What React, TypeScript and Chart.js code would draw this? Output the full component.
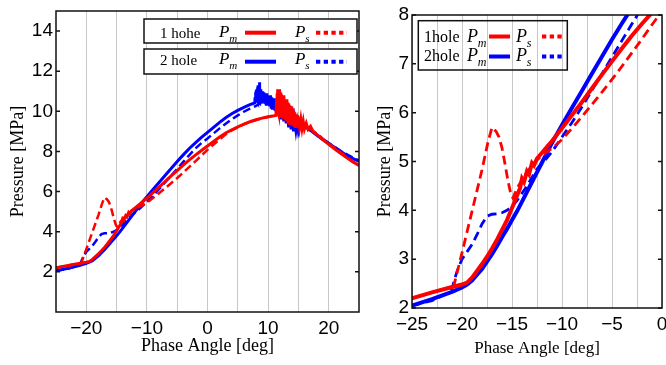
import React, { useEffect, useRef } from 'react';
import { Chart, registerables } from 'chart.js';
Chart.register(...registerables);

const RED = '#ff0000';
const BLUE = '#0000ff';

// [phase angle deg, pressure MPa]
const hole1Pm: [number, number][] = [
  [-25, 2.2], [-23, 2.32], [-21, 2.43], [-20, 2.48], [-19.5, 2.52], [-19, 2.62], [-18.5, 2.76], [-18, 2.9],
  [-17.5, 3.05], [-17, 3.22], [-16.5, 3.4], [-16, 3.6], [-15.5, 3.8], [-15, 4.05], [-14.5, 4.3], [-14.2, 4.45],
  [-14, 4.65], [-13.8, 4.58], [-13.5, 4.8], [-13.3, 4.74], [-13, 4.97], [-12.8, 4.92], [-12.5, 5.06], [-12, 5.18],
  [-11.5, 5.3], [-11, 5.42], [-10, 5.68], [-9, 5.95], [-8, 6.22], [-7, 6.5], [-6, 6.78], [-5, 7.05], [-4, 7.32],
  [-3, 7.58], [-2, 7.82], [-1, 8.05], [0, 8.27], [1, 8.5], [2, 8.72], [3, 8.92], [4, 9.08], [5, 9.23], [6, 9.36],
  [7, 9.48], [8, 9.58], [9, 9.66], [10, 9.73], [11, 9.78], [11.3, 9.8],
  [11.4, 10.6], [11.45, 10.0], [11.5, 10.9], [11.55, 10.1], [11.6, 11.1], [11.65, 10.0], [11.7, 10.8], [11.75, 9.9],
  [11.8, 11.1], [11.85, 10.0], [11.9, 10.7], [11.95, 9.85], [12.0, 10.95], [12.05, 9.8], [12.1, 10.6], [12.15, 9.75],
  [12.2, 10.85], [12.3, 9.8], [12.4, 10.75], [12.5, 9.7], [12.6, 10.8], [12.7, 9.65], [12.8, 10.55], [12.9, 9.55],
  [13.0, 10.6], [13.1, 9.5], [13.2, 10.45], [13.3, 9.45], [13.4, 10.4], [13.5, 9.4], [13.6, 10.3], [13.7, 9.35],
  [13.8, 10.25], [13.9, 9.3], [14.0, 10.15], [14.1, 9.3], [14.2, 10.0], [14.3, 9.3], [14.4, 9.95], [14.5, 9.25],
  [14.6, 9.85], [14.7, 9.25], [14.8, 9.8], [14.9, 9.2], [15.0, 9.7], [15.2, 9.2], [15.4, 9.6], [15.6, 9.15],
  [15.8, 9.5], [16.0, 9.12], [16.3, 9.4], [16.6, 9.1], [17.0, 9.25], [17.4, 9.0], [18, 8.85], [19, 8.6],
  [20, 8.35], [21, 8.12], [22, 7.9], [23, 7.68], [24, 7.48], [25, 7.3],
];

const hole1Ps: [number, number][] = [
  [-25, 2.2], [-23, 2.32], [-21, 2.43], [-20.8, 2.47], [-20, 3.13], [-19, 3.98], [-18, 4.83], [-17.4, 5.4],
  [-17, 5.7], [-16.6, 5.62], [-16.3, 5.5], [-16, 5.28], [-15.7, 4.95], [-15.4, 4.6], [-15.1, 4.32], [-14.9, 4.25],
  [-14.5, 4.45], [-14, 4.62], [-13.5, 4.78], [-13, 4.92], [-12.5, 5.03], [-12, 5.12], [-11.5, 5.2], [-11, 5.27],
  [-10, 5.45], [-9, 5.68], [-8, 5.92], [-7, 6.17], [-6, 6.42], [-5, 6.68], [-4, 6.95], [-3, 7.23], [-2, 7.51],
  [-1, 7.8], [0, 8.08], [1, 8.35], [2, 8.6], [3, 8.85], [4, 9.05], [5, 9.2], [6, 9.35], [7, 9.47], [8, 9.57],
  [9, 9.65], [10, 9.72], [11, 9.77], [11.3, 9.8], [11.5, 10.2], [12, 10.1], [14, 9.75], [16, 9.35], [18, 8.9],
  [20, 8.4], [22, 7.95], [24, 7.5], [25, 7.3],
];

const hole2Pm: [number, number][] = [
  [-25, 2.05], [-23, 2.18], [-21, 2.33], [-20, 2.42], [-19.5, 2.48], [-19, 2.56], [-18.5, 2.68], [-18, 2.8],
  [-17.5, 2.95], [-17, 3.1], [-16.5, 3.27], [-16, 3.45], [-15.5, 3.62], [-15, 3.8], [-14.5, 3.98], [-14, 4.18],
  [-13.5, 4.38], [-13, 4.58], [-12.5, 4.78], [-12, 4.98], [-11.5, 5.18], [-11, 5.38], [-10, 5.75], [-9, 6.1],
  [-8, 6.45], [-7, 6.8], [-6, 7.15], [-5, 7.5], [-4, 7.83], [-3, 8.15], [-2, 8.43], [-1, 8.7], [0, 8.95],
  [1, 9.2], [2, 9.45], [3, 9.68], [4, 9.88], [5, 10.05], [6, 10.2], [7, 10.33], [7.8, 10.42],
  [7.85, 10.7], [7.9, 10.45], [7.95, 10.95], [8.0, 10.5], [8.05, 11.05], [8.1, 10.5], [8.15, 11.1], [8.2, 10.55],
  [8.25, 11.2], [8.3, 10.5], [8.35, 11.3], [8.4, 10.6], [8.45, 11.15], [8.5, 10.55], [8.55, 11.45], [8.6, 10.5],
  [8.65, 11.2], [8.7, 10.45], [8.8, 11.1], [8.9, 10.45], [9.0, 11.0], [9.1, 10.5], [9.2, 10.95], [9.3, 10.4],
  [9.4, 10.9], [9.5, 10.45], [9.6, 10.85], [9.7, 10.35], [9.8, 10.9], [9.9, 10.3], [10.0, 10.8], [10.1, 10.35],
  [10.2, 10.75], [10.3, 10.25], [10.4, 10.8], [10.5, 10.2], [10.6, 10.7], [10.7, 10.15], [10.8, 10.6], [10.9, 10.1],
  [11.0, 10.65], [11.1, 10.05], [11.2, 10.5], [11.3, 10.0], [11.4, 10.45], [11.5, 9.9], [11.6, 10.4], [11.7, 9.8],
  [11.8, 10.3], [11.9, 9.7], [12.0, 10.35], [12.2, 9.6], [12.4, 10.2], [12.6, 9.5], [12.8, 10.1], [13.0, 9.4],
  [13.2, 9.95], [13.4, 9.2], [13.6, 9.8], [13.8, 9.1], [14.0, 9.7], [14.2, 9.0], [14.4, 9.55], [14.6, 9.05],
  [14.8, 9.45], [15.0, 9.0], [15.3, 9.35], [15.6, 9.1], [16, 9.25], [17, 9.05], [18, 8.82], [19, 8.6], [20, 8.4],
  [21, 8.2], [22, 8.0], [23, 7.8], [24, 7.65], [25, 7.5],
];

const hole2Ps: [number, number][] = [
  [-25, 2.05], [-23, 2.15], [-21.5, 2.3], [-21, 2.4], [-20.5, 2.75], [-20, 3.0], [-19.5, 3.15], [-19, 3.3],
  [-18.5, 3.5], [-18, 3.72], [-17.5, 3.88], [-17, 3.92], [-16.5, 3.93], [-16, 3.95], [-15.5, 4.0], [-15, 4.08],
  [-14.5, 4.2], [-14, 4.35], [-13.5, 4.5], [-13, 4.68], [-12.5, 4.85], [-12, 4.95], [-11, 5.2], [-10, 5.5],
  [-9, 5.8], [-8, 6.12], [-7, 6.46], [-6, 6.8], [-5, 7.14], [-4, 7.48], [-3, 7.82], [-2, 8.15], [-1, 8.42],
  [0, 8.65], [1, 8.9], [2, 9.15], [3, 9.38], [4, 9.6], [5, 9.8], [6, 9.98], [7, 10.13], [8, 10.27], [9, 10.45],
  [11, 10.3], [12, 10.05], [14, 9.7], [16, 9.3], [18, 8.85], [20, 8.42], [22, 8.02], [24, 7.7], [25, 7.55],
];

const leftXTicks = [-20, -15, -10, -5, 0, 5, 10, 15, 20];
const leftYTicks = [2, 4, 6, 8, 10, 12, 14];
const rightXTicks = [-25, -22.5, -20, -17.5, -15, -12.5, -10, -7.5, -5, -2.5, 0];
const rightYTicks = [2, 3, 4, 5, 6, 7, 8];

const leftLegendLabels = ['1 hohe', '2 hole'];
const rightLegendLabels = ['1hole', '2hole'];
const xTitle = 'Phase Angle [deg]';
const yTitle = 'Pressure [MPa]';

const SANS = '"Liberation Sans", Arial, sans-serif';
const SERIF = '"Liberation Serif", "Times New Roman", serif';

const fmt = (v: number) => (v < 0 ? '\u2212' + Math.abs(v) : String(v));

function drawP(ctx: CanvasRenderingContext2D, x: number, y: number, sub: string, size: number) {
  ctx.fillStyle = '#000';
  ctx.textAlign = 'left';
  ctx.textBaseline = 'alphabetic';
  ctx.font = `italic ${size}px ${SERIF}`;
  ctx.fillText('P', x, y);
  ctx.font = `italic ${Math.round(size * 0.66)}px ${SERIF}`;
  ctx.fillText(sub, x + size * 0.6, y + size * 0.3);
}

function drawSample(ctx: CanvasRenderingContext2D, x1: number, x2: number, y: number, color: string, dotted: boolean) {
  ctx.save();
  ctx.strokeStyle = color;
  ctx.lineWidth = 4;
  ctx.setLineDash(dotted ? [4.3, 3.4] : []);
  ctx.beginPath();
  ctx.moveTo(x1, y);
  ctx.lineTo(x2, y);
  ctx.stroke();
  ctx.restore();
}

function drawLeftLegend(ctx: CanvasRenderingContext2D) {
  const rows = [
    { top: 19, h: 24, base: 38, lineY: 32.7, color: RED },
    { top: 49, h: 25, base: 64.5, lineY: 61.7, color: BLUE },
  ];
  rows.forEach((r, i) => {
    ctx.save();
    ctx.fillStyle = '#fff';
    ctx.fillRect(144, r.top, 213, r.h);
    ctx.strokeStyle = '#111';
    ctx.lineWidth = 1.5;
    ctx.strokeRect(144, r.top, 213, r.h);
    ctx.fillStyle = '#000';
    ctx.font = `15px ${SERIF}`;
    ctx.textBaseline = 'alphabetic';
    ctx.textAlign = 'left';
    ctx.fillText(leftLegendLabels[i], 160, r.base);
    drawP(ctx, 219, r.base - 1, 'm', 17);
    drawSample(ctx, 245, 276, r.lineY, r.color, false);
    drawP(ctx, 295, r.base - 1, 's', 17);
    drawSample(ctx, 316, 347, r.lineY, r.color, true);
    ctx.restore();
  });
}

function drawRightLegend(ctx: CanvasRenderingContext2D) {
  ctx.save();
  ctx.strokeStyle = '#111';
  ctx.lineWidth = 1.5;
  ctx.strokeRect(48.3, 20.7, 149, 49.3);
  const rows = [
    { base: 42, lineY: 36.5, color: RED },
    { base: 61, lineY: 56.5, color: BLUE },
  ];
  rows.forEach((r, i) => {
    ctx.fillStyle = '#000';
    ctx.font = `16px ${SERIF}`;
    ctx.textBaseline = 'alphabetic';
    ctx.textAlign = 'left';
    ctx.fillText(rightLegendLabels[i], 54, r.base);
    drawP(ctx, 97, r.base, 'm', 18);
    drawSample(ctx, 119, 140, r.lineY, r.color, false);
    drawP(ctx, 146, r.base, 's', 18);
    drawSample(ctx, 172, 194, r.lineY, r.color, true);
  });
  ctx.restore();
}

function framePlugin(legend: (ctx: CanvasRenderingContext2D) => void) {
  return {
    id: 'frameLegend',
    afterDraw(chart: any) {
      const { ctx, chartArea } = chart;
      const { left, right, top, bottom } = chartArea;
      ctx.save();
      ctx.strokeStyle = '#111';
      ctx.lineWidth = 1.5;
      const ys = chart.scales.y;
      ys.ticks.forEach((t: any) => {
        const y = ys.getPixelForValue(t.value);
        ctx.beginPath();
        ctx.moveTo(left, y);
        ctx.lineTo(left + 4, y);
        ctx.moveTo(right - 4, y);
        ctx.lineTo(right, y);
        ctx.stroke();
      });
      ctx.strokeRect(left, top, right - left, bottom - top);
      ctx.restore();
      legend(ctx);
    },
  };
}

type PanelOpts = {
  xMin: number; xMax: number; yMin: number; yMax: number;
  xTicks: number[]; yTicks: number[]; labelStep: number;
  pad: { left: number; top: number; right: number; bottom: number };
  yWidth: number; xHeight: number;
  yTitlePad: number; xTitlePad: number; xTitleSize: number;
  solidWidth: number; dashedWidth: number; dash: number[];
  legend: (ctx: CanvasRenderingContext2D) => void;
};

function makeConfig(o: PanelOpts): any {
  const series = [
    { data: hole1Pm, color: RED, dashed: false, label: '1 hole Pm' },
    { data: hole1Ps, color: RED, dashed: true, label: '1 hole Ps' },
    { data: hole2Pm, color: BLUE, dashed: false, label: '2 hole Pm' },
    { data: hole2Ps, color: BLUE, dashed: true, label: '2 hole Ps' },
  ];
  return {
    type: 'line',
    data: {
      datasets: series.map((s) => ({
        label: s.label,
        data: s.data.map(([x, y]) => ({ x, y })),
        borderColor: s.color,
        backgroundColor: s.color,
        borderWidth: s.dashed ? o.dashedWidth : o.solidWidth,
        borderDash: s.dashed ? o.dash : [],
        pointRadius: 0,
        tension: 0,
        fill: false,
      })),
    },
    options: {
      responsive: false,
      animation: false,
      events: [],
      layout: { padding: o.pad },
      plugins: { legend: { display: false }, tooltip: { enabled: false } },
      scales: {
        x: {
          type: 'linear',
          min: o.xMin,
          max: o.xMax,
          afterBuildTicks: (s: any) => { s.ticks = o.xTicks.map((v) => ({ value: v })); },
          afterFit: (s: any) => { s.height = o.xHeight; s.paddingLeft = 0; s.paddingRight = 0; },
          ticks: {
            autoSkip: false,
            maxRotation: 0,
            padding: 5,
            color: '#000',
            font: { family: SANS, size: 19 },
            callback: (v: number) => (Math.abs(v % o.labelStep) < 1e-9 ? fmt(v) : ''),
          },
          grid: { color: '#c8c8c8', lineWidth: 1, drawTicks: false, tickLength: 0 },
          border: { display: false },
          title: {
            display: true,
            text: xTitle,
            color: '#000',
            font: { family: SERIF, size: o.xTitleSize },
            padding: { top: 0, bottom: o.xTitlePad },
          },
        },
        y: {
          type: 'linear',
          min: o.yMin,
          max: o.yMax,
          afterBuildTicks: (s: any) => { s.ticks = o.yTicks.map((v) => ({ value: v })); },
          afterFit: (s: any) => { s.width = o.yWidth; s.paddingTop = 0; s.paddingBottom = 0; },
          ticks: {
            autoSkip: false,
            padding: 3,
            color: '#000',
            font: { family: SANS, size: 19 },
            callback: (v: number) => fmt(v),
          },
          grid: { display: false, drawTicks: false, tickLength: 0 },
          border: { display: false },
          title: {
            display: true,
            text: yTitle,
            color: '#000',
            font: { family: SERIF, size: 18 },
            padding: { top: o.yTitlePad, bottom: 0 },
          },
        },
      },
    },
    plugins: [framePlugin(o.legend)],
  };
}

function Panel({ left, width, opts }: { left: number; width: number; opts: PanelOpts }) {
  const ref = useRef<HTMLCanvasElement>(null);
  useEffect(() => {
    if (!ref.current) return;
    const chart = new Chart(ref.current, makeConfig(opts));
    return () => chart.destroy();
  }, []);
  return (
    <canvas
      ref={ref}
      width={width}
      height={365}
      style={{ position: 'absolute', left, top: 0, width, height: 365 }}
    />
  );
}

const leftOpts: PanelOpts = {
  xMin: -25, xMax: 25, yMin: 0, yMax: 15,
  xTicks: leftXTicks, yTicks: leftYTicks, labelStep: 10,
  pad: { left: 0, top: 11, right: 11, bottom: 0 },
  yWidth: 56, xHeight: 53,
  yTitlePad: 7, xTitlePad: 8, xTitleSize: 18,
  solidWidth: 3, dashedWidth: 2.5, dash: [8, 4],
  legend: drawLeftLegend,
};

const rightOpts: PanelOpts = {
  xMin: -25, xMax: 0, yMin: 2, yMax: 8,
  xTicks: rightXTicks, yTicks: rightYTicks, labelStep: 5,
  pad: { left: 0, top: 15, right: 4, bottom: 0 },
  yWidth: 42, xHeight: 57,
  yTitlePad: 4, xTitlePad: 6, xTitleSize: 17,
  solidWidth: 4, dashedWidth: 2.8, dash: [9, 5],
  legend: drawRightLegend,
};

export default function App() {
  return (
    <div style={{ position: 'absolute', left: 0, top: 0, width: 666, height: 365, background: '#fff', overflow: 'hidden' }}>
      <Panel left={0} width={370} opts={leftOpts} />
      <Panel left={370} width={296} opts={rightOpts} />
    </div>
  );
}
